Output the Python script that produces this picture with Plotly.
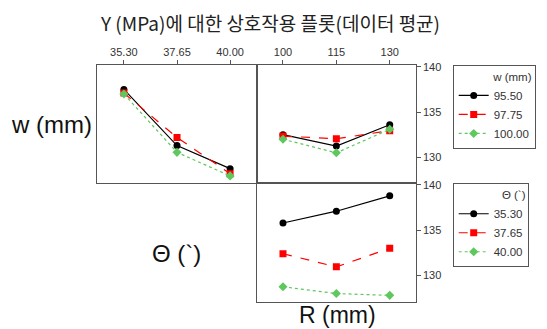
import plotly.graph_objects as go

# ---- data ----
theta_levels = [35.30, 37.65, 40.00]
r_levels = [100, 115, 130]
w_levels = ["95.50", "97.75", "100.00"]
theta_names = ["35.30", "37.65", "40.00"]

# row 1: mean Y by w (traces) vs theta (top-left) and vs R (top-right)
w_vs_theta = [
    [137.5, 131.3, 128.75],
    [137.1, 132.2, 128.2],
    [137.0, 130.55, 127.95],
]
w_vs_r = [
    [132.5, 131.25, 133.6],
    [132.35, 132.05, 132.95],
    [132.0, 130.5, 133.1],
]
# row 2: mean Y by theta (traces) vs R (bottom-right)
theta_vs_r = [
    [135.8, 137.1, 138.8],
    [132.4, 130.95, 133.0],
    [128.75, 128.0, 127.8],
]

theta_ticks = ["35.30", "37.65", "40.00"]
r_ticks = ["100", "115", "130"]
y_ticks = [130, 135, 140]

colors = ["#000000", "#ff0000", "#5ec85e"]
dashes = ["solid", "dash", "dot"]
symbols = ["circle", "square", "diamond"]

# page body has an 8px margin; figure fills the rest of the 547x329 window
OFF = 8
W, H = 547 - OFF, 329 - OFF
def px(x):
    return (x - OFF) / W
def py(y):
    return 1 - (y - OFF) / H

fig = go.Figure()

for i in range(3):
    fig.add_trace(go.Scatter(
        x=theta_levels, y=w_vs_theta[i], xaxis="x", yaxis="y",
        mode="lines+markers", name=w_levels[i], legend="legend",
        legendgroup="w" + str(i), showlegend=True,
        line=dict(color=colors[i], dash=dashes[i], width=1.2),
        marker=dict(symbol=symbols[i], size=7, color=colors[i])))
    fig.add_trace(go.Scatter(
        x=r_levels, y=w_vs_r[i], xaxis="x2", yaxis="y2",
        mode="lines+markers", name=w_levels[i], legend="legend",
        legendgroup="w" + str(i), showlegend=False,
        line=dict(color=colors[i], dash=dashes[i], width=1.2),
        marker=dict(symbol=symbols[i], size=7, color=colors[i])))
for i in range(3):
    fig.add_trace(go.Scatter(
        x=r_levels, y=theta_vs_r[i], xaxis="x3", yaxis="y3",
        mode="lines+markers", name=theta_names[i], legend="legend2",
        legendgroup="t" + str(i), showlegend=True,
        line=dict(color=colors[i], dash=dashes[i], width=1.2),
        marker=dict(symbol=symbols[i], size=7, color=colors[i])))

tickfont = dict(family="Liberation Sans, Arial", size=11, color="#333333")
base = dict(showline=True, linecolor="#555555", linewidth=1, mirror=True,
            showgrid=False, zeroline=False, tickfont=tickfont,
            ticklen=4, tickcolor="#555555")

top_y = [py(182.7), py(65)]
bot_y = [py(301.7), py(182.7)]
left_x = [px(97), px(257)]
right_x = [px(257), px(415.7)]

legfont = dict(family="Liberation Sans, Arial", size=11.5, color="#333333")

fig.update_layout(
    width=W, height=H,
    margin=dict(l=0, r=0, t=0, b=0, autoexpand=False),
    paper_bgcolor="white", plot_bgcolor="white",
    xaxis=dict(domain=left_x, anchor="y", side="top", range=[34.11, 41.19],
               tickvals=theta_levels, ticktext=theta_ticks, ticks="outside", **base),
    yaxis=dict(domain=top_y, anchor="x", range=[127.2, 140.2],
               showticklabels=False, ticks="", **base),
    xaxis2=dict(domain=right_x, anchor="y2", side="top", range=[92.7, 137.3],
                tickvals=r_levels, ticktext=r_ticks, ticks="outside", **base),
    yaxis2=dict(domain=top_y, anchor="x2", side="right", range=[127.2, 140.2],
                tickvals=y_ticks, ticks="outside", **base),
    xaxis3=dict(domain=right_x, anchor="y3", range=[92.7, 137.3],
                showticklabels=False, ticks="", **base),
    yaxis3=dict(domain=bot_y, anchor="x3", side="right", range=[127.1, 140.25],
                tickvals=y_ticks, ticks="outside", **base),
    legend=dict(x=px(452.7), y=py(65), xanchor="left", yanchor="top",
                bordercolor="#555555", borderwidth=1, bgcolor="white",
                font=legfont, title=dict(text="w (mm)", side="top right", font=legfont),
                tracegroupgap=0, itemwidth=30),
    legend2=dict(x=px(452.7), y=py(183.3), xanchor="left", yanchor="top",
                 bordercolor="#555555", borderwidth=1, bgcolor="white",
                 font=legfont, title=dict(text="Θ (`)", side="top right", font=legfont),
                 tracegroupgap=0, itemwidth=30),
    showlegend=True,
)

ann = dict(xref="paper", yref="paper", showarrow=False, xanchor="center", yanchor="middle")
fig.add_annotation(text="Y (MPa)에 대한 상호작용 플롯(데이터 평균)", x=px(270), y=py(22),
                   font=dict(family="Noto Sans CJK KR", size=19, color="#222222"), **ann)
fig.add_annotation(text="w (mm)", x=px(51), y=py(125),
                   font=dict(family="Liberation Sans, Arial", size=24, color="#111111"), **ann)
fig.add_annotation(text="Θ (`)", x=px(176), y=py(253),
                   font=dict(family="Liberation Sans, Arial", size=24, color="#111111"), **ann)
fig.add_annotation(text="R (mm)", x=px(337), y=py(315),
                   font=dict(family="Liberation Sans, Arial", size=23, color="#111111"), **ann)

fig.write_html("out.html")
